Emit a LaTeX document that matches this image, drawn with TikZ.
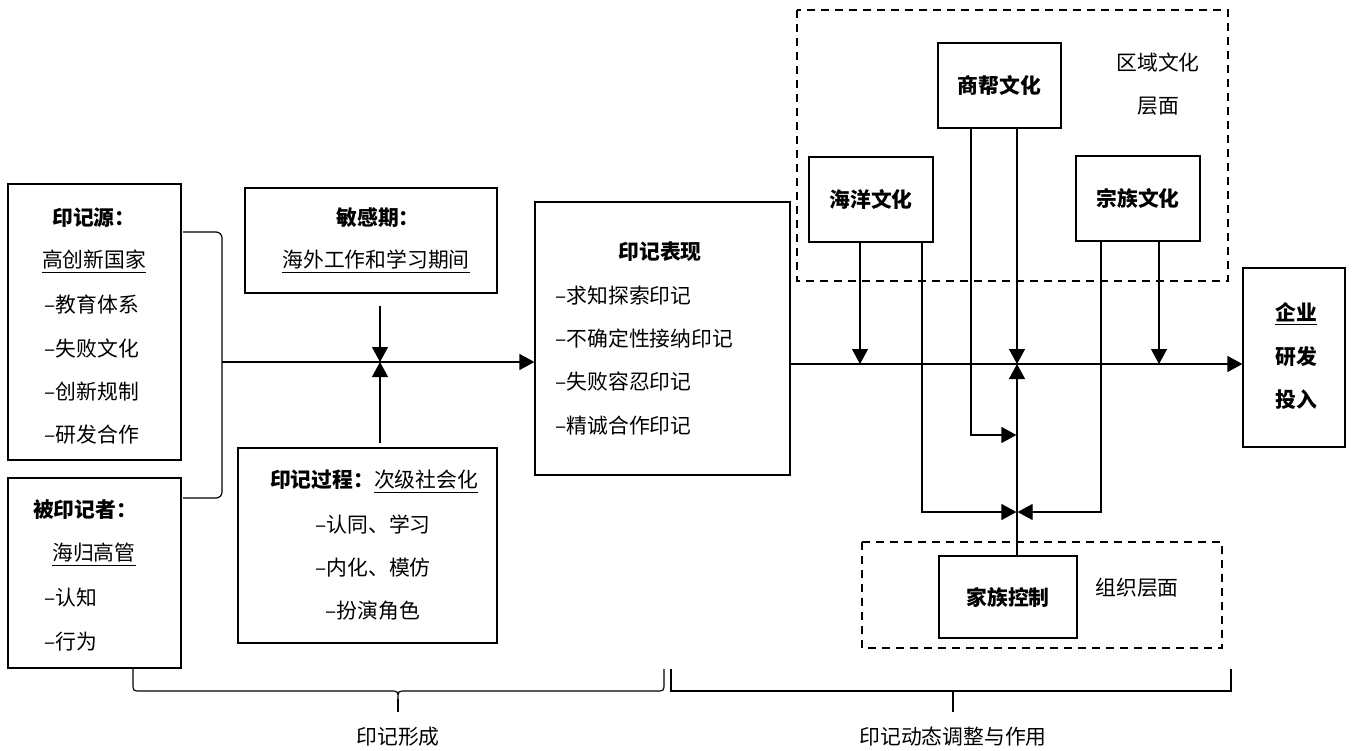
\documentclass[tikz,border=0pt]{standalone}
\usepackage{fontspec}
\setmainfont{Noto Sans CJK SC}
\usepackage{tikz}
\usetikzlibrary{arrows.meta,calc}

\begin{document}
\begin{tikzpicture}[x=0.5pt,y=-0.5pt,line width=0.6pt,
  font=\fontsize{10.4}{12}\selectfont,
  box/.style={draw,rectangle,inner sep=0pt},
  txt/.style={inner sep=0pt},
  item/.style={inner sep=0pt,anchor=west},
  arr/.style={-{Triangle[length=7.5pt,width=8pt]}},
  region/.style={dash pattern=on 4pt off 3pt}]
\useasboundingbox (0,0) rectangle (1353,750);

% left part: imprint formation
\node[box,minimum width=86.5pt,minimum height=138pt] (src) at (94.5,322) {};
\node[box,minimum width=86.5pt,minimum height=95pt] (who) at (94.5,573) {};
\node[box,minimum width=126pt,minimum height=52.5pt] (sens) at (371,240.5) {};
\node[box,minimum width=129.5pt,minimum height=97.5pt] (proc) at (367.5,545.5) {};
\node[box,minimum width=127.5pt,minimum height=136.5pt] (show) at (662.5,338.5) {};

\node[txt] (src-h) at (94,218) {\textbf{印记源：}};
\node[txt] (src-u) at (94,262) {\underline{高创新国家}};
\node[item] (src-1) at (44,305) {–教育体系};
\node[item] (src-2) at (44,349) {–失败文化};
\node[item] (src-3) at (44,392) {–创新规制};
\node[item] (src-4) at (44,435) {–研发合作};

\node[txt] (who-h) at (85,510) {\textbf{被印记者：}};
\node[txt] (who-u) at (94,555) {\underline{海归高管}};
\node[item] (who-1) at (44,598) {–认知};
\node[item] (who-2) at (44,642) {–行为};

\node[txt] (sens-h) at (378,218) {\textbf{敏感期：}};
\node[txt] (sens-u) at (376,262) {\underline{海外工作和学习期间}};

\node[txt] (proc-h) at (374,482) {\textbf{印记过程：}\underline{次级社会化}};
\node[item] (proc-1) at (315,525) {–认同、学习};
\node[item] (proc-2) at (315,568) {–内化、模仿};
\node[item] (proc-3) at (325,611) {–扮演角色};

\node[txt] (show-h) at (660,252) {\textbf{印记表现}};
\node[item] (show-1) at (555,296) {–求知探索印记};
\node[item] (show-2) at (555,339) {–不确定性接纳印记};
\node[item] (show-3) at (555,382) {–失败容忍印记};
\node[item] (show-4) at (555,426) {–精诚合作印记};

\draw[rounded corners=3pt] (183,232) -- (222,232) -- (222,498) -- (183,498);
\coordinate (brk) at (222,362);
\coordinate (meet) at (380,362);
\draw[arr] (brk) -- (brk -| show.west);
\draw[arr] ([yshift=-6pt]meet |- sens.south) -- (meet);
\draw[arr] ([yshift=2pt]meet |- proc.north) -- (meet);

% right part: dynamic adjustment
\draw[region] (797,10) rectangle (1228,281);
\draw[region] (862,542) rectangle (1222,648);
\node[txt] (reg-1) at (1158,63) {区域文化};
\node[txt] (reg-2) at (1158,106) {层面};
\node[txt] (org) at (1137,588) {组织层面};

\node[box,minimum width=61.5pt,minimum height=42.5pt] (sb) at (999.5,85.5) {\textbf{商帮文化}};
\node[box,minimum width=62pt,minimum height=42.5pt] (hy) at (871,199.5) {\textbf{海洋文化}};
\node[box,minimum width=62pt,minimum height=42.5pt] (zz) at (1138,198.5) {\textbf{宗族文化}};
\node[box,minimum width=69pt,minimum height=41pt] (jz) at (1008,597) {\textbf{家族控制}};
\node[box,minimum width=51pt,minimum height=89.5pt] (firm) at (1294,357.5) {};
\node[txt] (firm-1) at (1296,314) {\textbf{\underline{企业}}};
\node[txt] (firm-2) at (1296,357) {\textbf{研发}};
\node[txt] (firm-3) at (1296,400) {\textbf{投入}};

\coordinate (axis) at (790,364);
\coordinate (up) at (1017,364);
\draw[arr] (axis) -- (axis -| firm.west);
\draw[arr] (up |- jz.north) -- (up);
\draw[arr] (sb.south -| up) -- (up);
\draw[arr] ([xshift=-14.25pt]sb.south) |- ($(up |- 0,435)+(-0.3pt,0)$);
\draw[arr] ([xshift=-5.5pt]hy.south) -- ([xshift=-5.5pt]hy.south |- axis);
\draw[arr] ([xshift=25.5pt]hy.south) |- ($(up |- 0,512)+(-0.3pt,0)$);
\draw[arr] ([xshift=10.5pt]zz.south) -- ([xshift=10.5pt]zz.south |- axis);
\draw[arr] ([xshift=-18.5pt]zz.south) |- ($(up |- 0,512)+(0.3pt,0)$);

% braces
\draw (133,669) -- (133,683) .. controls (133,691) .. (141,691) -- (390,691)
  .. controls (398,691) .. (398,699) .. controls (398,691) .. (406,691) -- (656,691)
  .. controls (664,691) .. (664,683) -- (664,669);
\draw (398,699) -- (398,712);
\draw (671,669) -- (671,691) -- (1231,691) -- (1231,669);
\draw (953,691) -- (953,712);
\node[txt] (form) at (398,737) {印记形成};
\node[txt] (dyn) at (953,737) {印记动态调整与作用};
\end{tikzpicture}
\end{document}
